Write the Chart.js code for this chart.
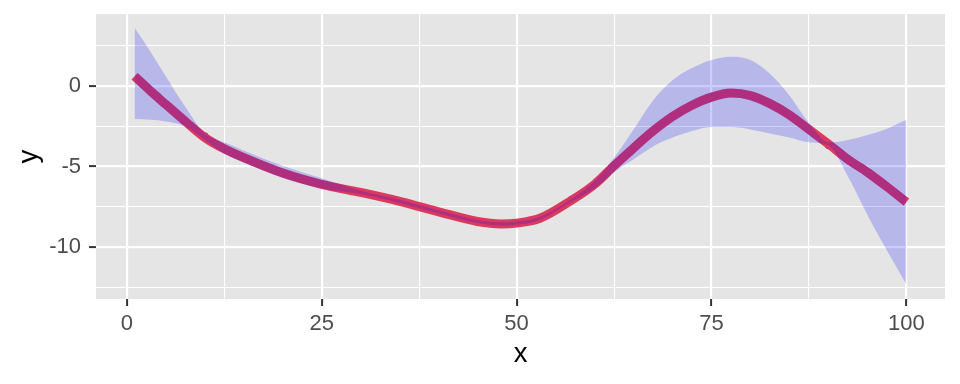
<!DOCTYPE html>
<html>
<head>
<meta charset="utf-8">
<script src="https://cdn.jsdelivr.net/npm/chart.js@4/dist/chart.umd.min.js"></script>
<style>
    html, body { margin: 0; padding: 0; background: #ffffff; }
    #wrap { width: 960px; height: 384px; }
</style>
</head>
<body>
<div id="wrap"><canvas id="smoothChart" width="960" height="384"></canvas></div>
<script>
// values
const xs = [1, 3, 5, 7.5, 10, 12.5, 15, 20, 25, 30, 35, 40, 45, 48, 50, 53, 57, 60, 62.5, 65,
    67.5, 70, 72.5, 75, 77.5, 80, 82.5, 85, 87.5, 90, 92.5, 95, 97.5, 100];
const fitY = [0.6, -0.3, -1.15, -2.2, -3.2, -3.9, -4.45, -5.4, -6.1, -6.6, -7.15, -7.8, -8.4, -8.55, -8.5, -8.2, -7.1, -6.1, -4.95, -3.85,
    -2.8, -1.9, -1.2, -0.7, -0.45, -0.6, -1.1, -1.8, -2.7, -3.6, -4.55, -5.35, -6.25, -7.2];
const upperY = [3.6, 2.15, 0.6, -1.3, -2.95, -3.5, -4.0, -4.95, -5.72, -6.5, -7.05, -7.7, -8.3, -8.45, -8.4, -8.1, -7.0, -5.9, -4.45, -2.7,
    -0.9, 0.35, 1.1, 1.6, 1.8, 1.6, 0.75, -0.6, -2.3, -3.5, -3.35, -3.05, -2.65, -2.1];
const lowerY = [-2.05, -2.1, -2.2, -2.5, -3.35, -4.2, -4.75, -5.7, -6.35, -6.7, -7.25, -7.9, -8.5, -8.65, -8.6, -8.3, -7.2, -6.35, -5.35, -4.55,
    -3.75, -3.2, -2.8, -2.55, -2.55, -2.7, -2.95, -3.2, -3.5, -3.7, -5.6, -8.0, -10.2, -12.3];
const obsX = [10, 30, 45, 57, 90];
const obsY = [-3.1, -6.6, -8.45, -7.05, -3.7];

const xTicks = [0, 12.5, 25, 37.5, 50, 62.5, 75, 87.5, 100];
const xLabels = [0, 25, 50, 75, 100];
const yTicks = [-12.5, -10, -7.5, -5, -2.5, 0, 2.5];
const yLabels = [-10, -5, 0];

function toPoints(xv, yv) {
    return xv.map((x, i) => ({ x: x, y: yv[i] }));
}

const panelBg = {
    id: 'panelBg',
    beforeDraw(chart) {
        const a = chart.chartArea;
        const ctx = chart.ctx;
        ctx.save();
        ctx.fillStyle = '#E5E5E5';
        ctx.fillRect(a.left, a.top, a.right - a.left, a.bottom - a.top);
        ctx.restore();
    }
};

function gridFor(labels) {
    return {
        color: '#ffffff',
        lineWidth: c => labels.includes(c.tick.value) ? 2.2 : 1.1,
        tickColor: c => labels.includes(c.tick.value) ? '#333333' : 'rgba(0,0,0,0)',
        tickWidth: 2,
        tickLength: 7,
        drawOnChartArea: true
    };
}

new Chart(document.getElementById('smoothChart'), {
    type: 'line',
    data: {
        datasets: [
            {
                label: 'lower',
                data: toPoints(xs, lowerY),
                borderWidth: 0,
                pointRadius: 0,
                cubicInterpolationMode: 'monotone',
                fill: false
            },
            {
                label: 'upper',
                data: toPoints(xs, upperY),
                borderWidth: 0,
                pointRadius: 0,
                cubicInterpolationMode: 'monotone',
                backgroundColor: 'rgba(0, 0, 255, 0.2)',
                fill: '-1'
            },
            {
                label: 'fit',
                data: toPoints(xs, fitY),
                borderColor: '#DB3A5E',
                borderWidth: 9,
                pointRadius: 0,
                cubicInterpolationMode: 'monotone',
                fill: false
            },
            {
                label: 'obs',
                data: toPoints(obsX, obsY),
                showLine: false,
                pointRadius: 3.4,
                pointBackgroundColor: '#000000',
                pointBorderWidth: 0
            }
        ]
    },
    options: {
        responsive: false,
        animation: false,
        events: [],
        layout: { padding: { top: 14, right: 15, left: 0, bottom: 0 } },
        plugins: {
            legend: { display: false },
            tooltip: { enabled: false }
        },
        scales: {
            x: {
                type: 'linear',
                min: -3.95,
                max: 104.95,
                afterBuildTicks: s => { s.ticks = xTicks.map(v => ({ value: v })); },
                afterFit: s => { s.height = 85; s.paddingLeft = 0; s.paddingRight = 0; },
                border: { display: false },
                grid: gridFor(xLabels),
                ticks: {
                    autoSkip: false,
                    maxRotation: 0,
                    padding: 5,
                    color: '#4D4D4D',
                    font: { family: 'Liberation Sans', size: 22 },
                    callback: v => xLabels.includes(v) ? String(v) : ''
                },
                title: {
                    display: true,
                    text: 'x',
                    color: '#000000',
                    font: { family: 'Liberation Sans', size: 27.5 },
                    padding: { top: 0, bottom: 13 }
                }
            },
            y: {
                type: 'linear',
                min: -13.2,
                max: 4.45,
                afterBuildTicks: s => { s.ticks = yTicks.map(v => ({ value: v })); },
                afterFit: s => { s.width = 96; s.paddingTop = 0; s.paddingBottom = 0; },
                border: { display: false },
                grid: gridFor(yLabels),
                ticks: {
                    autoSkip: false,
                    padding: 8,
                    color: '#4D4D4D',
                    font: { family: 'Liberation Sans', size: 22 },
                    callback: v => yLabels.includes(v) ? String(v) : ''
                },
                title: {
                    display: true,
                    text: 'y',
                    color: '#000000',
                    font: { family: 'Liberation Sans', size: 27.5 },
                    padding: { top: 13, bottom: 0 }
                }
            }
        }
    },
    plugins: [panelBg]
});
</script>
</body>
</html>
